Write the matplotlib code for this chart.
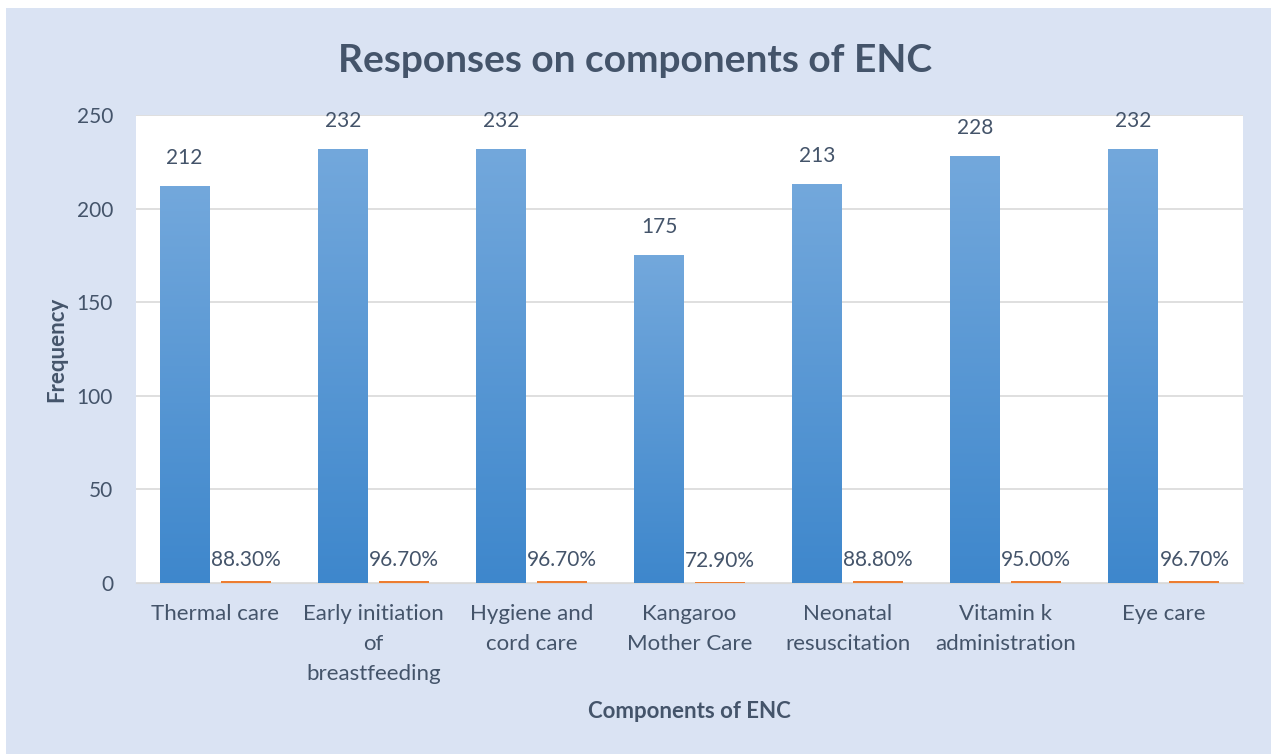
import matplotlib.pyplot as plt
import numpy as np
from matplotlib.patches import Rectangle
from matplotlib.colors import LinearSegmentedColormap

plt.rcParams['font.family'] = ['Lato', 'DejaVu Sans']

categories = ["Thermal care", "Early initiation\nof\nbreastfeeding", "Hygiene and\ncord care",
              "Kangaroo\nMother Care", "Neonatal\nresuscitation", "Vitamin k\nadministration", "Eye care"]
frequency = [212, 232, 232, 175, 213, 228, 232]
percent = [0.883, 0.967, 0.967, 0.729, 0.888, 0.950, 0.967]

txt = "#44546A"
fig = plt.figure(figsize=(12.71, 7.54), dpi=100)
fig.patch.set_facecolor("white")
fig.patches.append(Rectangle((6 / 1271, 0), 1, 1 - 8 / 754, transform=fig.transFigure,
                             facecolor="#DAE3F3", edgecolor="none", zorder=-10))

ax = fig.add_axes([136 / 1271, 1 - 583 / 754, (1243 - 136) / 1271, (583 - 115) / 754])
ax.set_facecolor("white")

x = np.arange(len(categories))
w = 0.316
off = 0.193
cmap = LinearSegmentedColormap.from_list("g", ["#3E87CC", "#73A8DC"])
grad = np.linspace(0, 1, 256).reshape(-1, 1)

# blue bars with vertical gradient
bars = ax.bar(x - off, frequency, w, color="none", edgecolor="none", zorder=3)
for b in bars:
    im = ax.imshow(grad, cmap=cmap, aspect="auto", origin="lower",
                   extent=[b.get_x(), b.get_x() + b.get_width(), 0, b.get_height()], zorder=3)
    im.set_clip_path(b)
for xi, v in zip(x, frequency):
    ax.annotate(str(v), (xi - off, v), xytext=(0, 13), textcoords="offset points",
                ha="center", va="bottom", fontsize=15, color=txt)

ax.bar(x + off, percent, w, color="#ED7D31", zorder=3)
for xi, v in zip(x, percent):
    ax.annotate(f"{v * 100:.2f}%", (xi + off, v), xytext=(0, 8), textcoords="offset points",
                ha="center", va="bottom", fontsize=15, color=txt)

ax.set_xlim(-0.5, len(categories) - 0.5)
ax.set_ylim(0, 250)
ax.set_yticks(range(0, 251, 50))
ax.set_xticks(x)
ax.set_xticklabels(categories, fontsize=16, color=txt, linespacing=1.64)
ax.tick_params(axis="y", labelsize=15, labelcolor=txt, length=0, pad=16.5)
ax.tick_params(axis="x", length=0, pad=15)
ax.grid(axis="y", color="#D9D9D9", linewidth=1.2, zorder=0)
ax.set_axisbelow(True)
for s in ["top", "right", "left"]:
    ax.spines[s].set_visible(False)
ax.spines["bottom"].set_color("#D9D9D9")

ax.set_ylabel("Frequency", fontsize=16, fontweight="bold", color=txt)
ax.set_xlabel("Components of ENC", fontsize=16, fontweight="bold", color=txt)
ax.yaxis.set_label_coords(-0.0714, 0.5)
ax.xaxis.set_label_coords(0.5, -0.2756)
ax.xaxis.label.set_va("center")
ax.yaxis.label.set_va("center")
fig.text(0.5, 1 - 60 / 754, "Responses on components of ENC", ha="center", va="center",
         fontsize=28, fontweight="bold", color=txt)

fig.savefig("out.png", dpi=100)
